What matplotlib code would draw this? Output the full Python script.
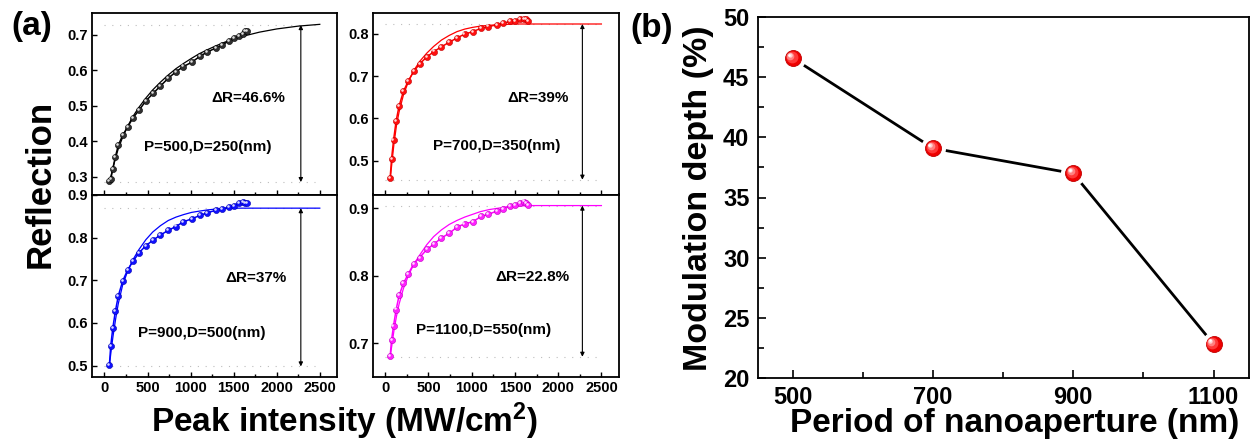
import matplotlib
matplotlib.use('Agg')
import matplotlib.pyplot as plt
from matplotlib.transforms import ScaledTranslation
from matplotlib.ticker import MultipleLocator, FixedLocator

plt.rcParams.update({
    'font.family': ['Liberation Sans', 'DejaVu Sans'],
    'font.weight': 'bold',
    'mathtext.fontset': 'custom',
    'mathtext.rm': 'Liberation Sans:bold',
    'mathtext.bf': 'Liberation Sans:bold',
    'mathtext.default': 'bf',
})

# ---------------- data ----------------
intensity = [57, 73, 96, 126, 161, 211, 268, 330, 399, 480, 564, 649, 741, 829,
             917, 1013, 1109, 1194, 1290, 1367, 1444, 1501, 1559, 1605, 1633, 1654]

refl_500 = [0.288, 0.293, 0.322, 0.356, 0.389, 0.417, 0.440, 0.466, 0.487, 0.514,
            0.535, 0.556, 0.578, 0.596, 0.611, 0.623, 0.640, 0.652, 0.663, 0.671,
            0.684, 0.691, 0.696, 0.704, 0.712, 0.711]
refl_700 = [0.460, 0.504, 0.548, 0.594, 0.630, 0.664, 0.689, 0.711, 0.729, 0.745,
            0.758, 0.769, 0.780, 0.790, 0.799, 0.805, 0.813, 0.817, 0.821, 0.825,
            0.829, 0.831, 0.834, 0.835, 0.835, 0.831]
refl_900 = [0.502, 0.547, 0.587, 0.627, 0.664, 0.698, 0.724, 0.744, 0.764, 0.781,
            0.794, 0.806, 0.817, 0.826, 0.837, 0.844, 0.852, 0.858, 0.864, 0.867,
            0.872, 0.875, 0.880, 0.883, 0.882, 0.881]
refl_1100 = [0.681, 0.705, 0.726, 0.750, 0.771, 0.789, 0.803, 0.818, 0.827, 0.839,
             0.847, 0.856, 0.863, 0.872, 0.877, 0.880, 0.888, 0.891, 0.896, 0.899,
             0.904, 0.905, 0.908, 0.910, 0.908, 0.905]

fit_x = [57, 80, 100, 130, 160, 210, 270, 330, 400, 480, 560, 650, 740, 830,
         920, 1010, 1100, 1200, 1300, 1400, 1500, 1650, 1800, 2000, 2250, 2500]
fit_500 = [0.285, 0.307, 0.327, 0.354, 0.379, 0.411, 0.443, 0.470, 0.496, 0.522,
           0.545, 0.567, 0.587, 0.605, 0.620, 0.634, 0.647, 0.659, 0.670, 0.680,
           0.688, 0.699, 0.708, 0.717, 0.725, 0.730]
fit_700 = [0.455, 0.500, 0.538, 0.583, 0.615, 0.655, 0.688, 0.713, 0.735, 0.754,
           0.770, 0.785, 0.796, 0.805, 0.811, 0.815, 0.818, 0.820, 0.821, 0.822,
           0.823, 0.823, 0.823, 0.823, 0.823, 0.823]
fit_900 = [0.500, 0.540, 0.570, 0.610, 0.645, 0.688, 0.722, 0.748, 0.772, 0.795,
           0.813, 0.828, 0.840, 0.848, 0.854, 0.859, 0.862, 0.865, 0.867, 0.868,
           0.869, 0.869, 0.869, 0.869, 0.869, 0.869]
fit_1100 = [0.680, 0.700, 0.718, 0.740, 0.758, 0.781, 0.801, 0.817, 0.831, 0.846,
            0.858, 0.868, 0.876, 0.882, 0.887, 0.891, 0.895, 0.898, 0.900, 0.902,
            0.903, 0.904, 0.904, 0.904, 0.904, 0.904]

levels_500 = [0.285, 0.728]
levels_700 = [0.455, 0.823]
levels_900 = [0.498, 0.869]
levels_1100 = [0.680, 0.904]

delta_labels = ['\u0394R=46.6%', '\u0394R=39%', '\u0394R=37%', '\u0394R=22.8%']
struct_labels = ['P=500,D=250(nm)', 'P=700,D=350(nm)', 'P=900,D=500(nm)', 'P=1100,D=550(nm)']

period = [500, 700, 900, 1100]
mod_depth = [46.6, 39.1, 37.0, 22.8]

x_ticks_a = [0, 500, 1000, 1500, 2000, 2500]
x_ticks_b = [500, 700, 900, 1100]

# ---------------- figure ----------------
W, H = 1250, 442
fig = plt.figure(figsize=(W / 100, H / 100), dpi=100)


def rect(x0, y0, x1, y1):
    return [x0 / W, 1 - y1 / H, (x1 - x0) / W, (y1 - y0) / H]


def glossy(ax, x, y, color, dark, ms, zorder, hl='white'):
    ax.plot(x, y, 'o', ms=ms, mfc=color, mec=dark, mew=0.4, zorder=zorder, ls='none')
    off = ScaledTranslation(-ms * 0.17 / 72, ms * 0.17 / 72, fig.dpi_scale_trans)
    ax.plot(x, y, 'o', ms=ms * 0.42, mfc=hl, mec='none', alpha=0.85,
            transform=ax.transData + off, zorder=zorder + 0.1, ls='none')


panels = [
    dict(rect=rect(92, 13, 337, 194.5), y=refl_500, fit=fit_500, lev=levels_500,
         c='black', dark='#000000', mcol='#303030', ylim=(0.250, 0.762),
         yt=[0.3, 0.4, 0.5, 0.6, 0.7], dl=delta_labels[0], sl=struct_labels[0],
         dpos=(0.637, 0.53), spos=(0.473, 0.26), bottom=False),
    dict(rect=rect(372.7, 13, 618.7, 194.5), y=refl_700, fit=fit_700, lev=levels_700,
         c='#ff0000', dark='#c00000', mcol='#ff1010', ylim=(0.420, 0.849),
         yt=[0.5, 0.6, 0.7, 0.8], dl=delta_labels[1], sl=struct_labels[1],
         dpos=(0.673, 0.529), spos=(0.504, 0.267), bottom=False),
    dict(rect=rect(92, 194.5, 337, 376.7), y=refl_900, fit=fit_900, lev=levels_900,
         c='#0000ff', dark='#0000b0', mcol='#1010ff', ylim=(0.474, 0.901),
         yt=[0.5, 0.6, 0.7, 0.8, 0.9], dl=delta_labels[2], sl=struct_labels[2],
         dpos=(0.669, 0.541), spos=(0.448, 0.24), bottom=True),
    dict(rect=rect(372.7, 194.5, 618.7, 376.7), y=refl_1100, fit=fit_1100, lev=levels_1100,
         c='#ff00ff', dark='#c000c0', mcol='#ff20ff', ylim=(0.6505, 0.9204),
         yt=[0.7, 0.8, 0.9], dl=delta_labels[3], sl=struct_labels[3],
         dpos=(0.649, 0.547), spos=(0.452, 0.258), bottom=True),
]

for p in panels:
    ax = fig.add_axes(p['rect'])
    lo, hi = p['lev']
    ax.plot([0, 2450], [hi, hi], ls=(0, (1, 6)), color='#bdbdbd', lw=0.8, zorder=1)
    ax.plot([0, 2450], [lo, lo], ls=(0, (1, 6)), color='#bdbdbd', lw=0.8, zorder=1)
    ax.plot(fit_x, p['fit'], '-', color=p['c'], lw=0.9, zorder=2)
    ax.plot(intensity, p['y'], '-', color=p['c'], lw=1.1, zorder=3)
    glossy(ax, intensity, p['y'], p['mcol'], p['dark'], 4.4, 4)
    ax.annotate('', xy=(2280, hi), xytext=(2280, lo),
                arrowprops=dict(arrowstyle='<|-|>', lw=0.8, color='black',
                                mutation_scale=6, shrinkA=0, shrinkB=0), zorder=5)
    ax.text(p['dpos'][0], p['dpos'][1], p['dl'], transform=ax.transAxes,
            ha='center', va='center', fontsize=11, fontweight='bold')
    ax.text(p['spos'][0], p['spos'][1], p['sl'], transform=ax.transAxes,
            ha='center', va='center', fontsize=11, fontweight='bold')
    ax.set_xlim(-145, 2700)
    ax.set_ylim(*p['ylim'])
    ax.xaxis.set_major_locator(FixedLocator(x_ticks_a))
    ax.xaxis.set_minor_locator(MultipleLocator(250))
    ax.yaxis.set_major_locator(FixedLocator(p['yt']))
    ax.yaxis.set_major_formatter(matplotlib.ticker.FormatStrFormatter('%.1f'))
    ax.tick_params(axis='both', which='both', direction='in', top=False, right=False,
                   width=1.0, labelsize=10.5, pad=3)
    ax.tick_params(axis='x', which='major', length=3.5)
    ax.tick_params(axis='x', which='minor', length=2.5)
    ax.tick_params(axis='y', which='major', length=3.5)
    if not p['bottom']:
        ax.tick_params(axis='x', labelbottom=False)
    for s in ax.spines.values():
        s.set_linewidth(1.3)

fig.text(40 / W, 1 - 184 / H, 'Reflection', rotation=90, ha='center', va='center',
         fontsize=25, fontweight='bold')
fig.text(345 / W, 1 - 432 / H, 'Peak intensity (MW/cm$^2$)', ha='center', va='baseline',
         fontsize=24, fontweight='bold')
fig.text(32 / W, 1 - 27 / H, '(a)', ha='center', va='center', fontsize=24, fontweight='bold')

# ---------------- panel (b) ----------------
axb = fig.add_axes(rect(757.7, 17.3, 1248.6, 377.7))
axb.plot(period, mod_depth, '-', color='black', lw=2.0, zorder=2)
axb.plot(period, mod_depth, 'o', ms=17, mfc='white', mec='white', zorder=3, ls='none')
axb.plot(period, mod_depth, 'o', ms=11.5, mfc='#ee0000', mec='#c00000', mew=0.6,
         zorder=4, ls='none')
for k, (sz, col, sh) in enumerate([(8.5, '#ff3838', 0.9), (5.5, '#ff8080', 1.7),
                                   (3.2, '#ffd0d0', 2.3), (1.8, 'white', 2.6)]):
    off = ScaledTranslation(-sh / 72, sh / 72, fig.dpi_scale_trans)
    axb.plot(period, mod_depth, 'o', ms=sz, mfc=col, mec='none', ls='none',
             transform=axb.transData + off, zorder=5 + k * 0.1)
axb.set_xlim(450, 1150)
axb.set_ylim(20, 50)
axb.xaxis.set_major_locator(FixedLocator(x_ticks_b))
axb.xaxis.set_minor_locator(MultipleLocator(100))
axb.yaxis.set_major_locator(MultipleLocator(5))
axb.yaxis.set_minor_locator(MultipleLocator(2.5))
axb.tick_params(axis='both', which='both', direction='in', top=False, right=False,
                width=1.2, labelsize=17, pad=6)
axb.tick_params(axis='both', which='major', length=6)
axb.tick_params(axis='both', which='minor', length=4.5)
for s in axb.spines.values():
    s.set_linewidth(1.3)

fig.text(699 / W, 1 - 198 / H, 'Modulation depth (%)', rotation=90, ha='center',
         va='center', fontsize=24.5, fontweight='bold')
fig.text(1015 / W, 1 - 432 / H, 'Period of nanoaperture (nm)', ha='center',
         va='baseline', fontsize=24, fontweight='bold')
fig.text(652 / W, 1 - 29 / H, '(b)', ha='center', va='center', fontsize=24,
         fontweight='bold')

fig.savefig('out.png', dpi=100)
